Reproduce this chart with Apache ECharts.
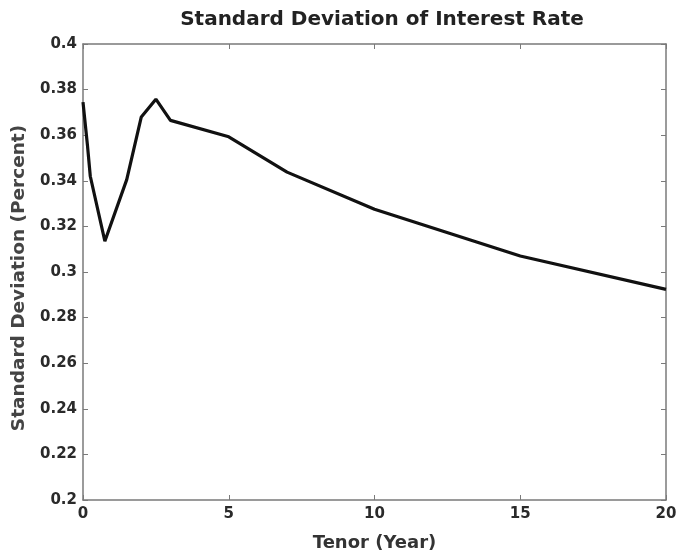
<!DOCTYPE html>
<html>
<head>
<meta charset="utf-8">
<script src="https://cdn.jsdelivr.net/npm/echarts@6/dist/echarts.min.js"></script>
<style>
html,body{margin:0;padding:0;background:#fff;}
#chart{width:678px;height:554px;}
</style>
</head>
<body>
<div id="chart"></div>
<script>
var tenors = [0, 0.15, 0.25, 0.75, 1.5, 2, 2.5, 3, 5, 7, 10, 15, 20];
var stdDev = [0.3745, 0.356, 0.342, 0.3135, 0.3405, 0.368, 0.3758, 0.3665, 0.3593, 0.3438, 0.3275, 0.307, 0.2924];
var xTicks = [0, 5, 10, 15, 20];
var yTicks = [0.2, 0.22, 0.24, 0.26, 0.28, 0.3, 0.32, 0.34, 0.36, 0.38, 0.4];
var titleText = 'Standard Deviation of Interest Rate';
var xName = 'Tenor (Year)';
var yName = 'Standard Deviation (Percent)';

var font = '"DejaVu Sans", sans-serif';
var axisColor = '#7a7a7a';
var chart = echarts.init(document.getElementById('chart'));
var pts = tenors.map(function (t, i) { return [t, stdDev[i]]; });

function baseAxis(extra) {
  var a = {
    axisLine: { show: true, onZero: false, lineStyle: { color: axisColor, width: 1.5 } },
    axisTick: { show: true, inside: true, length: 5, lineStyle: { color: axisColor, width: 1 } },
    splitLine: { show: false }
  };
  for (var k in extra) a[k] = extra[k];
  return a;
}

chart.setOption({
  animation: false,
  backgroundColor: '#fff',
  title: {
    text: titleText,
    left: 377, top: 5, textAlign: 'center',
    textStyle: { fontFamily: font, fontSize: 20, fontWeight: 'bold', color: '#222' }
  },
  grid: { left: 83, right: 12, top: 44, bottom: 54, containLabel: false, outerBoundsMode: 'none' },
  xAxis: [
    baseAxis({
      type: 'value', min: xTicks[0], max: xTicks[xTicks.length - 1], interval: 5, position: 'bottom',
      name: xName, nameLocation: 'middle', nameGap: 34,
      nameTextStyle: { fontFamily: font, fontSize: 18, fontWeight: 'bold', color: '#333' },
      axisLabel: { margin: 7, fontFamily: font, fontSize: 15, fontWeight: 'bold', color: '#2a2a2a' }
    }),
    baseAxis({
      type: 'value', min: xTicks[0], max: xTicks[xTicks.length - 1], interval: 5, position: 'top',
      axisLabel: { show: false }
    })
  ],
  yAxis: [
    baseAxis({
      type: 'value', min: yTicks[0], max: yTicks[yTicks.length - 1], interval: 0.02, position: 'left',
      name: yName, nameLocation: 'middle', nameGap: 51,
      nameTextStyle: { fontFamily: font, fontSize: 18.5, fontWeight: 'bold', color: '#444', padding: [0, 12, 0, 0] },
      axisLabel: { margin: 6, fontFamily: font, fontSize: 15, fontWeight: 'bold', color: '#2a2a2a' }
    }),
    baseAxis({
      type: 'value', min: yTicks[0], max: yTicks[yTicks.length - 1], interval: 0.02, position: 'right',
      axisLabel: { show: false }
    })
  ],
  series: [{
    type: 'line',
    data: pts,
    xAxisIndex: 0, yAxisIndex: 0,
    symbol: 'none',
    smooth: false,
    lineStyle: { color: '#111', width: 3.2 }
  }]
});
</script>
</body>
</html>
